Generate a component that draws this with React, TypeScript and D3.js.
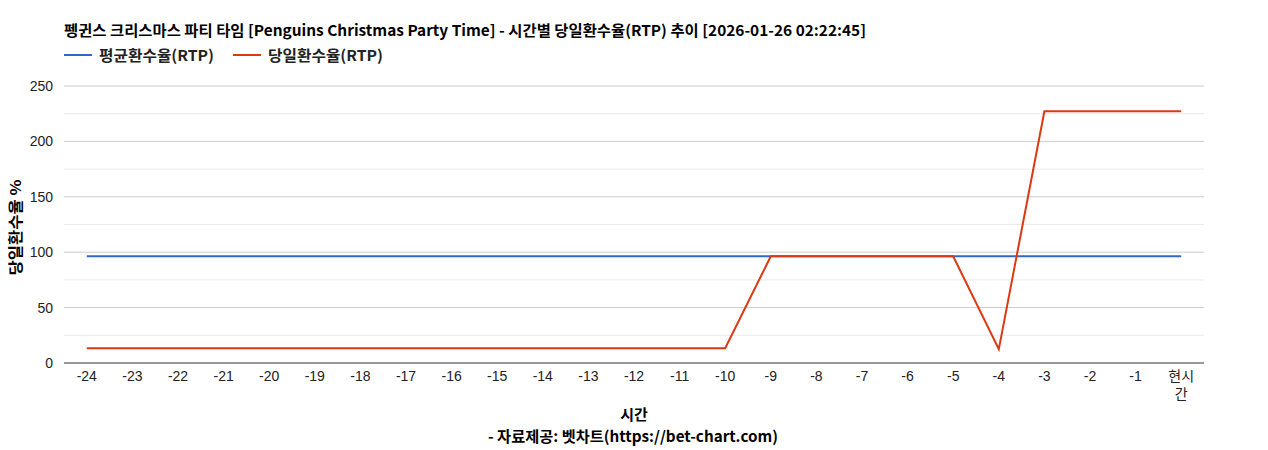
import * as d3 from 'd3';
import React from 'react';

const hours = [
  '-24', '-23', '-22', '-21', '-20', '-19', '-18', '-17', '-16', '-15', '-14', '-13',
  '-12', '-11', '-10', '-9', '-8', '-7', '-6', '-5', '-4', '-3', '-2', '-1', '현시간',
];
const avgRtp = [
  96.3, 96.3, 96.3, 96.3, 96.3, 96.3, 96.3, 96.3, 96.3, 96.3, 96.3, 96.3,
  96.3, 96.3, 96.3, 96.3, 96.3, 96.3, 96.3, 96.3, 96.3, 96.3, 96.3, 96.3, 96.3,
];
const dayRtp = [
  13.3, 13.3, 13.3, 13.3, 13.3, 13.3, 13.3, 13.3, 13.3, 13.3, 13.3, 13.3,
  13.3, 13.3, 13.3, 96.3, 96.3, 96.3, 96.3, 96.3, 12.5, 227.2, 227.2, 227.2, 227.2,
];
const yTicks = [0, 50, 100, 150, 200, 250];
const yMinorTicks = [25, 75, 125, 175, 225];

const title = '펭귄스 크리스마스 파티 타임 [Penguins Christmas Party Time] - 시간별 당일환수율(RTP) 추이 [2026-01-26 02:22:45]';
const series = [
  { name: '평균환수율(RTP)', values: avgRtp, color: '#3366cc' },
  { name: '당일환수율(RTP)', values: dayRtp, color: '#dc3912' },
];

const W = 1268;
const H = 450;
const margin = { top: 86, right: 64, bottom: 87, left: 64 };
const innerW = W - margin.left - margin.right;
const innerH = H - margin.top - margin.bottom;

const cjk = '"Noto Sans CJK KR", "Noto Sans", sans-serif';
const tickFont = '"Liberation Sans", Arial, "Noto Sans CJK KR", sans-serif';

export default function App() {
  const x = d3.scalePoint<string>().domain(hours).range([0, innerW]).padding(0.5);
  const y = d3.scaleLinear().domain([0, 250]).range([innerH, 0]);
  const line = d3
    .line<number>()
    .x((_, i) => x(hours[i]) ?? 0)
    .y((d) => y(d));

  return (
    <svg
      width={W}
      height={H}
      style={{ position: 'absolute', left: 0, top: 0, background: '#fff' }}
    >
      <text
        x={64}
        y={36}
        fontFamily={cjk}
        fontWeight="bold"
        fontSize={15}
        fill="#000"
        textLength={802}
        lengthAdjust="spacingAndGlyphs"
      >
        {title}
      </text>
      <g transform="translate(64, 55)">
        {series.map((s, i) => {
          const ox = i * 169;
          return (
            <g key={s.name} transform={`translate(${ox}, 0)`}>
              <line x1={0} x2={28} y1={0} y2={0} stroke={s.color} strokeWidth={2} />
              <text
                x={35}
                y={5.5}
                fontFamily={cjk}
                fontWeight="bold"
                fontSize={15}
                fill="#222"
                textLength={115}
                lengthAdjust="spacingAndGlyphs"
              >
                {s.name}
              </text>
            </g>
          );
        })}
      </g>
      <g transform={`translate(${margin.left}, ${margin.top})`}>
        {yMinorTicks.map((t) => (
          <line key={`m${t}`} x1={0} x2={innerW} y1={y(t)} y2={y(t)} stroke="#ebebeb" strokeWidth={1} />
        ))}
        {yTicks.map((t) => (
          <g key={t}>
            {t > 0 && <line x1={0} x2={innerW} y1={y(t)} y2={y(t)} stroke="#cccccc" strokeWidth={1} />}
            <text
              x={-11}
              y={y(t)}
              dy="0.35em"
              textAnchor="end"
              fontFamily={tickFont}
              fontSize={14}
              fill="#222"
            >
              {t}
            </text>
          </g>
        ))}
        {series.map((s) => (
          <path
            key={s.name}
            d={line(s.values) ?? ''}
            fill="none"
            stroke={s.color}
            strokeWidth={2}
            strokeLinejoin="miter"
          />
        ))}
        <line x1={0} x2={innerW} y1={innerH} y2={innerH} stroke="#333" strokeWidth={1} />
        {hours.map((h) => {
          const px = x(h) ?? 0;
          if (h === '현시간') {
            return (
              <text key={h} textAnchor="middle" fontFamily={tickFont} fontSize={14} fill="#222">
                <tspan x={px} y={innerH + 18}>현시</tspan>
                <tspan x={px} y={innerH + 36}>간</tspan>
              </text>
            );
          }
          return (
            <text
              key={h}
              x={px}
              y={innerH + 18}
              textAnchor="middle"
              fontFamily={tickFont}
              fontSize={14}
              fill="#222"
            >
              {h}
            </text>
          );
        })}
      </g>
      <text
        transform={`translate(21, ${margin.top + innerH / 2 + 3}) rotate(-90)`}
        textAnchor="middle"
        fontFamily={cjk}
        fontWeight="bold"
        fontSize={15}
        fill="#000"
        textLength={96}
        lengthAdjust="spacingAndGlyphs"
      >
        당일환수율 %
      </text>
      <text
        x={634}
        y={420}
        textAnchor="middle"
        fontFamily={cjk}
        fontWeight="bold"
        fontSize={15}
        fill="#000"
      >
        시간
      </text>
      <text
        x={633}
        y={442}
        textAnchor="middle"
        fontFamily={cjk}
        fontWeight="bold"
        fontSize={15}
        fill="#000"
        textLength={290}
        lengthAdjust="spacingAndGlyphs"
      >
        - 자료제공: 벳차트(https://bet-chart.com)
      </text>
    </svg>
  );
}
